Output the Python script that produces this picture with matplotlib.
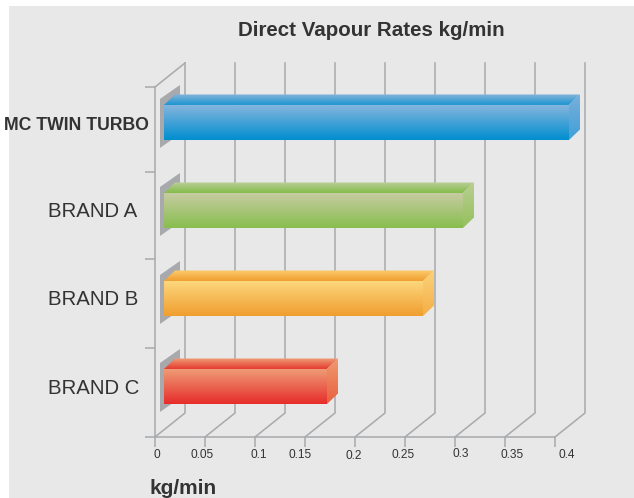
#! /usr/bin/env python
"""Direct vapour rates, fake 3D bar chart."""

import numpy as np
import matplotlib
matplotlib.use('Agg')
import matplotlib.pyplot as plt
from matplotlib.colors import LinearSegmentedColormap
from matplotlib.patches import Polygon, Rectangle

plt.rcParams['font.family'] = ['Liberation Sans', 'DejaVu Sans']

### data ###

brands = ['MC TWIN TURBO', 'BRAND A', 'BRAND B', 'BRAND C']
rates = [0.405, 0.299, 0.259, 0.163]
x_ticks = [0, 0.05, 0.1, 0.15, 0.2, 0.25, 0.3, 0.35, 0.4]
x_tick_labels = ['0', '0.05', '0.1', '0.15', '0.2', '0.25', '0.3', '0.35', '0.4']

# colours as (top, bottom) of each gradient
front_colors = [('#88b6de', '#008ecf'), ('#c8cca4', '#88be4e'), ('#fdd880', '#f09e2e'), ('#ee9e78', '#e72d2b')]
top_colors = [('#86b4da', '#1c95d2'), ('#bccf98', '#84bc4a'), ('#fbcb6e', '#f29f2e'), ('#ef9e76', '#e43b30')]
side_colors = [('#7ab0db', '#3f9fd8'), ('#b9cf90', '#94c05e'), ('#fbd27a', '#f5ae48'), ('#f09a70', '#e9603f')]

### layout ###

W, H = 634, 498
GRID = '#a9abae'
TEXT = '#333333'

# pixels per unit on each axis
px_x = 1000.0
px_y = 88.0

fig = plt.figure(figsize=(W / 100, H / 100), dpi=100, facecolor='white')
fig.add_artist(Rectangle((9 / W, 0), 1, 1 - 6 / H, transform=fig.transFigure, fc='#e8e8e8', ec='none', zorder=-5))

ax = fig.add_axes([155 / W, 1 - 437 / H, 400 / W, 350 / H])
ax.patch.set_visible(False)

depth_x = 30 / px_x
depth_y = 24 / px_y
y_top = -0.403
y_bottom = 3.574
band_edges = [y_top, 0.5625, 1.551, 2.562, y_bottom]


def gradient_poly(pts, colors, zorder):
    pts = np.array(pts)
    cmap = LinearSegmentedColormap.from_list('g', colors)
    clip = Polygon(pts, closed=True, transform=ax.transData, fc='none', ec='none')
    im = ax.imshow(np.linspace(0, 1, 64).reshape(-1, 1), cmap=cmap, aspect='auto', interpolation='bilinear',
                   extent=(pts[:, 0].min(), pts[:, 0].max(), pts[:, 1].max(), pts[:, 1].min()), zorder=zorder)
    im.set_clip_box(fig.bbox)
    im.set_clip_path(clip)


# back wall and floor lines
for t in x_ticks:
    ax.plot([t, t + depth_x, t + depth_x], [y_bottom, y_bottom - depth_y, y_top - depth_y],
            color=GRID, lw=1.15, clip_on=False, zorder=1, solid_joinstyle='miter')
ax.plot([0, depth_x], [y_top, y_top - depth_y], color=GRID, lw=1.15, clip_on=False, zorder=1)

# bars
bar_x0 = 9 / px_x
half_h = 17.5 / px_y
bar_dx = 11 / px_x
bar_dy = 10.5 / px_y
for i, v in enumerate(rates):
    x1 = bar_x0 + v
    ytop = i - half_h
    ybot = i + half_h

    # grey shadow panel behind the bar
    ax.add_patch(Polygon([(bar_x0 - 4 / px_x, ytop - 6 / px_y), (bar_x0 + 16 / px_x, ytop - 20 / px_y),
                          (bar_x0 + 16 / px_x, ybot - 6 / px_y), (bar_x0 - 4 / px_x, ybot + 8 / px_y)],
                         closed=True, fc='#a7a9ac', ec='none', clip_on=False, zorder=2))

    gradient_poly([(bar_x0, ytop), (bar_x0 + bar_dx, ytop - bar_dy), (x1 + bar_dx, ytop - bar_dy), (x1, ytop)],
                  top_colors[i], 3)
    gradient_poly([(x1, ytop), (x1 + bar_dx, ytop - bar_dy), (x1 + bar_dx, ybot - bar_dy), (x1, ybot)],
                  side_colors[i], 3)
    gradient_poly([(bar_x0, ytop), (x1, ytop), (x1, ybot), (bar_x0, ybot)], front_colors[i], 4)

ax.set_xlim(0, 0.4)
ax.set_ylim(y_bottom, y_top)

# axes
for side in ['top', 'right']:
    ax.spines[side].set_visible(False)
for side in ['left', 'bottom']:
    ax.spines[side].set_color(GRID)
    ax.spines[side].set_linewidth(1.15)
ax.set_xticks(x_ticks)
ax.set_xticklabels([])
ax.set_yticks(band_edges)
ax.set_yticklabels([])
ax.tick_params(axis='both', length=7.2, width=1.15, color=GRID)

# tick labels sit unevenly in the original
x_label_dx = [1.5, -3, 4, -5, -1, -2, 6, 7, 12]
x_label_dy = [0, 0, 0, 0, -1, 0, 1, 0, 0]
for t, lab, dx, dy in zip(x_ticks, x_tick_labels, x_label_dx, x_label_dy):
    ax.annotate(lab, (t, y_bottom), xytext=(dx * 0.72, (-18 + dy) * 0.72), textcoords='offset points',
                ha='center', va='center', fontsize=8.6, color=TEXT, annotation_clip=False)

ytrans = ax.get_yaxis_transform()
ax.text(4 / 400 - 155 / 400, 0.03, brands[0], transform=ytrans, ha='left', va='center',
        fontsize=12.7, fontweight='bold', color=TEXT)
for i, name in enumerate(brands[1:], 1):
    ax.text(-107 / 400, i + (0.01, 0.01, 0.02)[i - 1], name, transform=ytrans, ha='left', va='center',
            fontsize=14.7, color=TEXT)

fig.text(371 / W, 1 - 31 / H, 'Direct Vapour Rates kg/min', ha='center', va='center',
         fontsize=14.8, fontweight='bold', color=TEXT)
fig.text(183 / W, 1 - 488 / H, 'kg/min', ha='center', va='center', fontsize=15, fontweight='bold', color=TEXT)

fig.savefig('out.png', dpi=100)
plt.close(fig)
